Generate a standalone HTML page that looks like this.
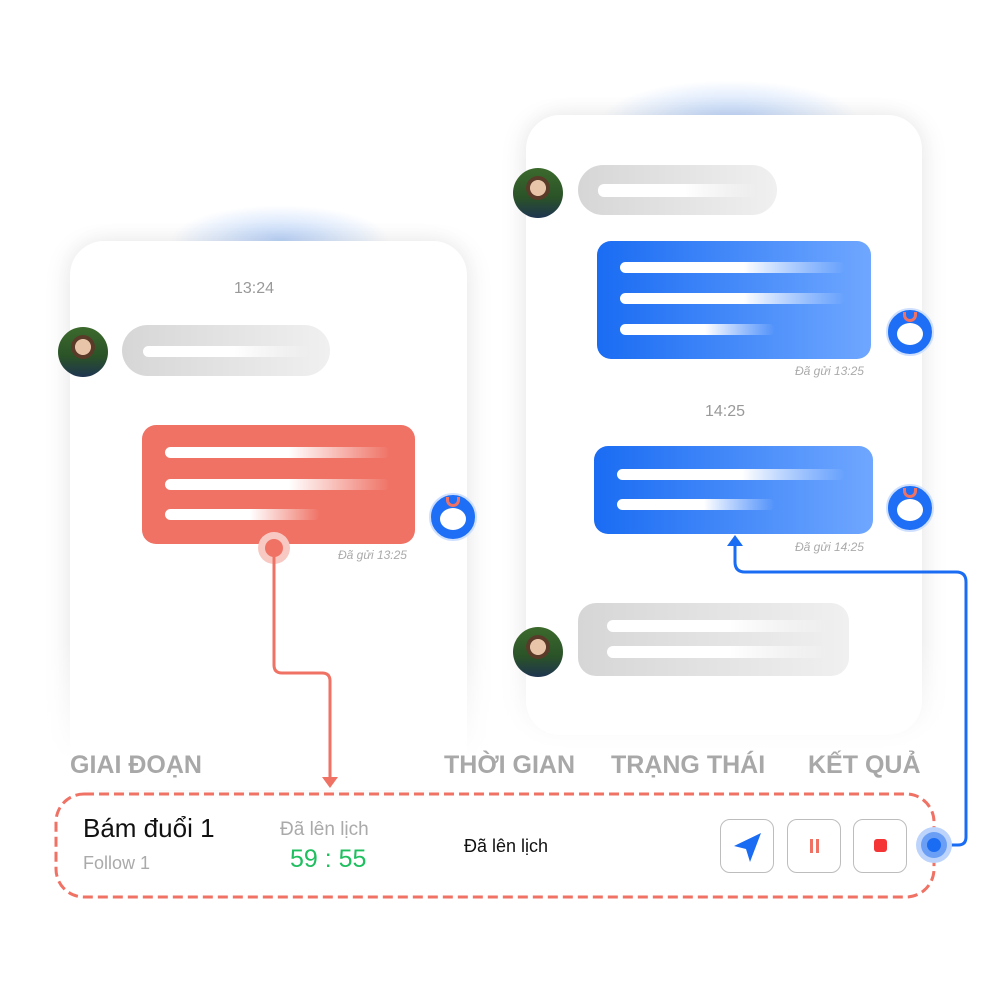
<!DOCTYPE html>
<html><head><meta charset="utf-8"><style>
body{margin:0;width:1000px;height:1000px;background:#fff;position:relative;overflow:hidden;font-family:"Liberation Sans",sans-serif}
.a{position:absolute}
.card{position:absolute;background:#fff;border-radius:34px;box-shadow:-6px 0 24px rgba(0,0,0,.06),6px 0 24px rgba(0,0,0,.06)}
.glow{position:absolute;border-radius:50%;background:radial-gradient(ellipse at center,rgba(90,150,240,.4),rgba(90,150,240,0) 70%)}
.fade{position:absolute;background:linear-gradient(rgba(255,255,255,0),#fff 80%)}
.gray{position:absolute;border-radius:26px;background:linear-gradient(90deg,#d6d6d6,#f0f0f0)}
.ln{position:absolute;height:11px;border-radius:6px;background:linear-gradient(90deg,#fff 55%,rgba(255,255,255,0))}
.blue{position:absolute;border-radius:14px;background:linear-gradient(90deg,#1a6cf3,#6fa7ff)}
.t{position:absolute;white-space:nowrap}
.sm{font-size:12px;font-style:italic;color:#aaa}
.hd{font-size:25px;font-weight:bold;color:#a8a8a8}
.btn{position:absolute;width:52px;height:52px;border:1px solid #bdbdbd;border-radius:10px;top:819px;background:#fff}
.av{position:absolute;width:50px;height:50px;border-radius:50%;overflow:hidden;background:radial-gradient(circle at 50% 40%,#e8c4a8 0 20%,#5a3a28 21% 30%,transparent 31%),linear-gradient(#3c6a2c,#2a5228 60%,#1f3550)}
.rb{position:absolute;width:48px;height:48px;border-radius:50%;background:#1e6ff5;border:2px solid #cfe0ff;box-sizing:border-box}
.rb:after{content:"";position:absolute;left:9px;top:13px;width:26px;height:22px;border-radius:50%;background:#fff}
.rb:before{content:"";position:absolute;left:15px;top:2px;width:14px;height:10px;border:3px solid #ef7265;border-top:none;border-radius:0 0 8px 8px;box-sizing:border-box}
</style></head><body>
<div class="glow" style="left:170px;top:205px;width:220px;height:70px"></div>
<div class="glow" style="left:600px;top:80px;width:260px;height:80px"></div>
<div class="card" style="left:70px;top:241px;width:397px;height:540px"></div>
<div class="card" style="left:526px;top:115px;width:396px;height:620px"></div>
<div class="fade" style="left:40px;top:640px;width:920px;height:150px"></div>

<div class="t" style="left:234px;top:280px;font-size:16px;color:#999">13:24</div>
<div class="av" style="left:58px;top:327px"></div>
<div class="gray" style="left:122px;top:325px;width:208px;height:51px"></div>
<div class="ln" style="left:143px;top:346px;width:167px"></div>
<div class="a" style="left:142px;top:425px;width:273px;height:119px;border-radius:14px;background:#ef7265"></div>
<div class="ln" style="left:165px;top:447px;width:225px"></div>
<div class="ln" style="left:165px;top:479px;width:225px"></div>
<div class="ln" style="left:165px;top:509px;width:155px"></div>
<div class="rb" style="left:429px;top:493px"></div>
<div class="t sm" style="left:338px;top:548px">Đã gửi 13:25</div>

<div class="av" style="left:513px;top:168px"></div>
<div class="gray" style="left:578px;top:165px;width:199px;height:50px"></div>
<div class="ln" style="left:598px;top:184px;width:159px;height:13px"></div>
<div class="blue" style="left:597px;top:241px;width:274px;height:118px"></div>
<div class="ln" style="left:620px;top:262px;width:225px"></div>
<div class="ln" style="left:620px;top:293px;width:225px"></div>
<div class="ln" style="left:620px;top:324px;width:155px"></div>
<div class="rb" style="left:886px;top:308px"></div>
<div class="t sm" style="left:795px;top:364px">Đã gửi 13:25</div>
<div class="t" style="left:705px;top:403px;font-size:16px;color:#999">14:25</div>
<div class="blue" style="left:594px;top:446px;width:279px;height:88px"></div>
<div class="ln" style="left:617px;top:469px;width:228px"></div>
<div class="ln" style="left:617px;top:499px;width:158px"></div>
<div class="rb" style="left:886px;top:484px"></div>
<div class="t sm" style="left:795px;top:540px">Đã gửi 14:25</div>
<div class="av" style="left:513px;top:627px"></div>
<div class="gray" style="left:578px;top:603px;width:271px;height:73px;border-radius:18px"></div>
<div class="ln" style="left:607px;top:620px;width:223px;height:12px"></div>
<div class="ln" style="left:607px;top:646px;width:223px;height:12px"></div>

<div class="t hd" style="left:70px;top:751px">GIAI ĐOẠN</div>
<div class="t hd" style="left:444px;top:751px">THỜI GIAN</div>
<div class="t hd" style="left:611px;top:751px">TRẠNG THÁI</div>
<div class="t hd" style="left:808px;top:751px">KẾT QUẢ</div>

<svg class="a" style="left:0;top:0" width="1000" height="1000">
<rect x="56" y="794" width="878" height="103" rx="28" fill="none" stroke="#ef7265" stroke-width="3" stroke-dasharray="10 5"/>
<circle cx="274" cy="548" r="16" fill="#f8c9c3"/><circle cx="274" cy="548" r="9" fill="#ef7265"/>
<path d="M274 548 V665 q0 8 8 8 H322 q8 0 8 8 V778" fill="none" stroke="#ef7265" stroke-width="3"/>
<path d="M322 777 h16 l-8 11z" fill="#ef7265"/>
<path d="M934 845 H958 q8 0 8-8 V582 q0-10-10-10 H745 q-10 0-10-10 V544" fill="none" stroke="#1a6cf3" stroke-width="3"/>
<path d="M727 546 h16 l-8-11z" fill="#1a6cf3"/>
<circle cx="934" cy="845" r="18" fill="#bcd3fb"/><circle cx="934" cy="845" r="13" fill="#6a9ff5"/><circle cx="934" cy="845" r="7" fill="#1a6cf3"/>
</svg>

<div class="t" style="left:83px;top:813px;font-size:26px;color:#111">Bám đuổi 1</div>
<div class="t" style="left:83px;top:853px;font-size:18px;color:#aaa">Follow 1</div>
<div class="t" style="left:280px;top:819px;font-size:19px;color:#aaa">Đã lên lịch</div>
<div class="t" style="left:290px;top:845px;font-size:25px;color:#1fbf5f">59 : 55</div>
<div class="t" style="left:464px;top:836px;font-size:18px;color:#111">Đã lên lịch</div>
<div class="btn" style="left:720px"><svg width="52" height="52"><path d="M40 13 L13 26 L25 29 L29 42 Z" fill="#1a6cf3"/></svg></div>
<div class="btn" style="left:787px"><div class="a" style="left:22px;top:19px;width:3px;height:14px;background:#ef7265"></div><div class="a" style="left:28px;top:19px;width:3px;height:14px;background:#ef7265"></div></div>
<div class="btn" style="left:853px"><div class="a" style="left:20px;top:19px;width:13px;height:13px;border-radius:3px;background:#f53535"></div></div>
</body></html>
